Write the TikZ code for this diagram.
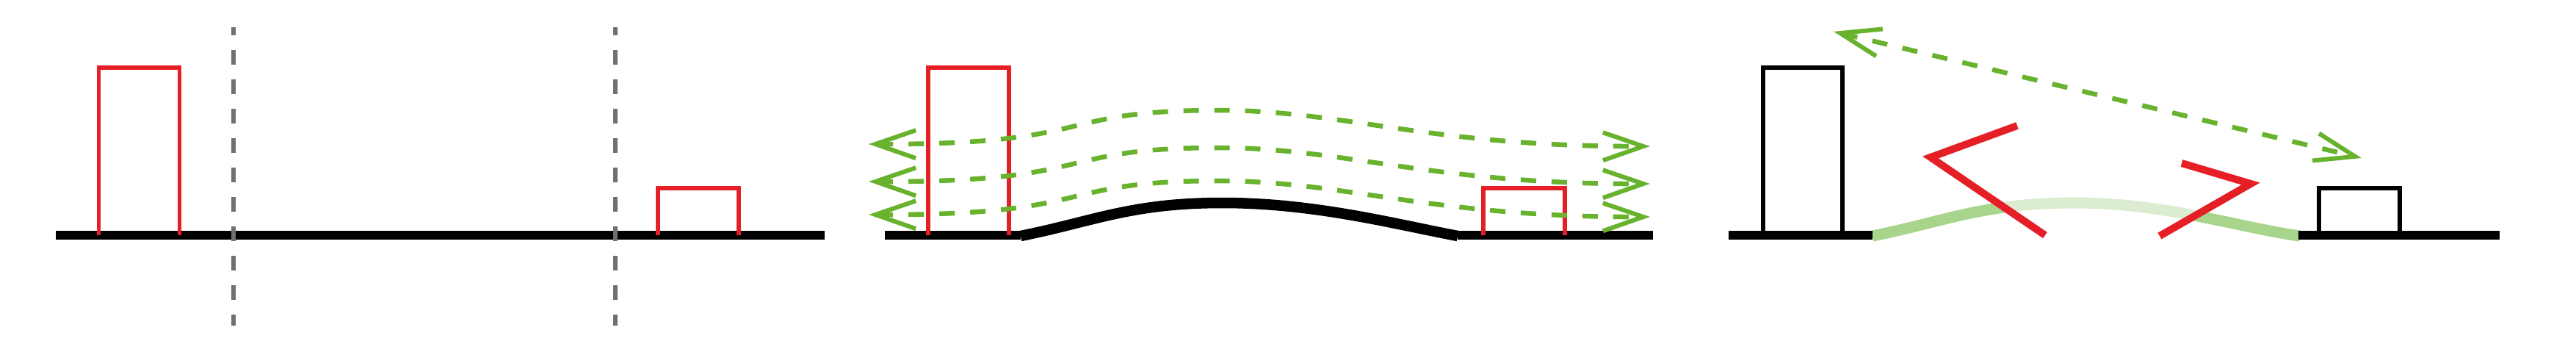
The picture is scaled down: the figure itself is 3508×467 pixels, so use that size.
\documentclass[tikz,border=0pt]{standalone}
\usetikzlibrary{arrows.meta}
\definecolor{myred}{RGB}{228,31,38}
\definecolor{mygreen}{RGB}{104,178,46}
\definecolor{bumpdark}{RGB}{168,212,140}
\definecolor{bumplight}{RGB}{220,236,209}
\definecolor{mygray}{RGB}{112,112,112}
\tikzset{chev/.tip={Straight Barb[length=55pt,width=38pt,line width=6pt]}}
\begin{document}
\begin{tikzpicture}[x=1pt,y=-1pt,
  ground/.style={draw=black, line width=12pt},
  redbox/.style={draw=myred, line width=5.5pt, line join=miter},
  blackbox/.style={draw=black, line width=5.5pt, line join=miter},
  vguide/.style={draw=mygray, line width=6pt, dash pattern=on 20pt off 20pt, dash phase=9pt},
  wave/.style={draw=mygreen, line width=6.5pt, dash pattern=on 21pt off 21pt, arrows={chev-chev}},
  zig/.style={draw=myred, line width=10pt, line join=miter}
]
\useasboundingbox (0,0) rectangle (3508,467);

% ---------- panel 1 ----------
\draw[ground] (76,320) -- (1123,320);
\draw[redbox] (134.5,320) -- (134.5,92) -- (244.5,92) -- (244.5,320);
\draw[redbox] (896,320) -- (896,256) -- (1006,256) -- (1006,320);
\draw[vguide] (318,37) -- (318,443);
\draw[vguide] (838,37) -- (838,443);

% ---------- panel 2 ----------
\draw[black, line width=14.5pt] (1390,321) .. controls (1490,301) and (1540,276) .. (1665,276)
      .. controls (1790,276) and (1900,305) .. (1985,321);
\draw[ground] (1205,320) -- (1390,320);
\draw[ground] (1985,320) -- (2251,320);
\draw[redbox] (1264,320) -- (1264,92) -- (1374,92) -- (1374,320);
\draw[redbox] (2020,320) -- (2020,256) -- (2131,256) -- (2131,320);
\foreach \dy in {0,51,96}{
  \begin{scope}[shift={(0,\dy)}]
    \draw[wave] (1183,196) .. controls (1500,197) and (1430,150) .. (1660,150)
          .. controls (1830,150) and (1950,200) .. (2247,199);
  \end{scope}
}

% ---------- panel 3 ----------
\draw[bumplight, line width=15pt] (2550,321) .. controls (2650,301) and (2700,276) .. (2826,276)
      .. controls (2950,276) and (3050,310) .. (3132,321);
\begin{scope}
  \clip (2300,150) -- (2629,214) -- (2861,376) -- (2300,376) -- cycle;
  \draw[bumpdark, line width=15pt] (2550,321) .. controls (2650,301) and (2700,276) .. (2826,276)
      .. controls (2950,276) and (3050,310) .. (3132,321);
\end{scope}
\begin{scope}
  \clip (3065,150) -- (3065,250) -- (2880,355) -- (3500,355) -- (3500,150) -- cycle;
  \draw[bumpdark, line width=15pt] (2550,321) .. controls (2650,301) and (2700,276) .. (2826,276)
      .. controls (2950,276) and (3050,310) .. (3132,321);
\end{scope}
\draw[ground] (2354,320) -- (2550,320);
\draw[ground] (3130,320) -- (3404,320);
\draw[blackbox] (2401,320) -- (2401,92) -- (2509,92) -- (2509,320);
\draw[blackbox] (3158,320) -- (3158,256) -- (3268,256) -- (3268,320);
\draw[zig] (2747,171) -- (2629,214) -- (2785,320);
\draw[zig] (2971,222) -- (3065,250) -- (2941,321);
\draw[wave] (2497,43) -- (3216,215);
\end{tikzpicture}
\end{document}
